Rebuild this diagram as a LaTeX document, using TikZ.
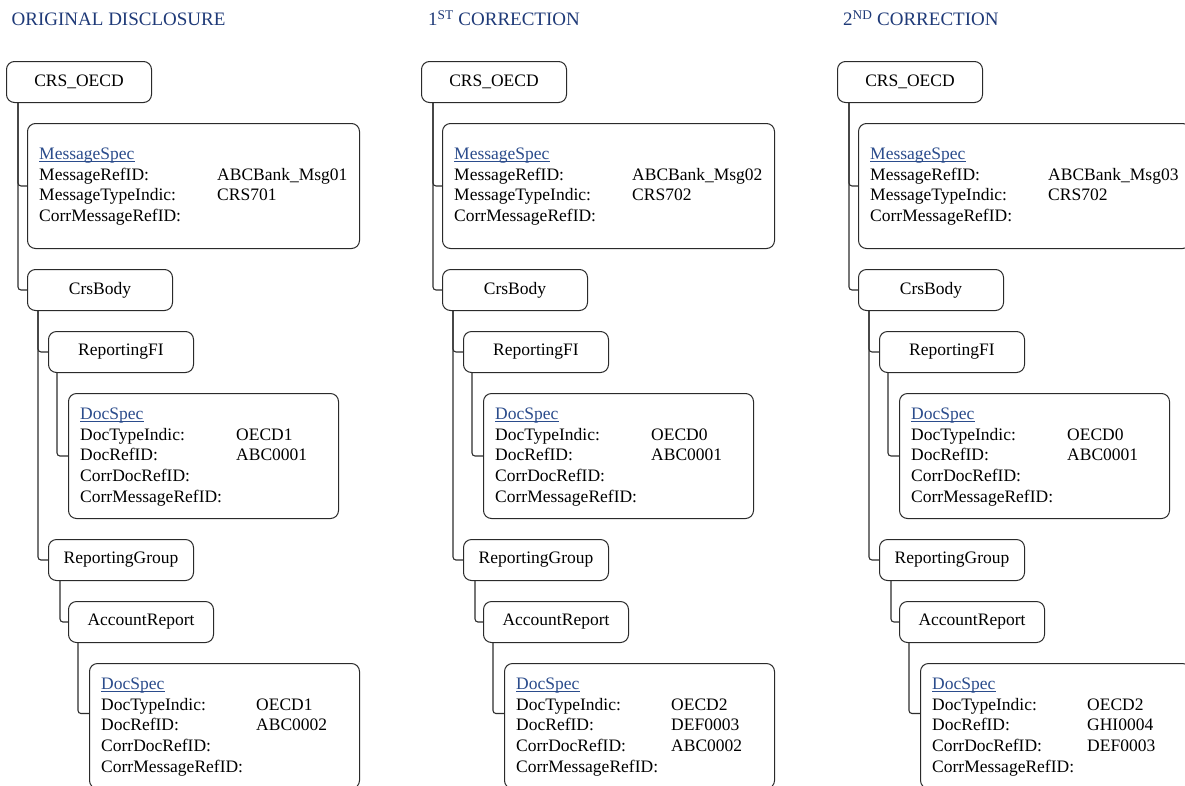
\documentclass[tikz,border=0pt]{standalone}
\usepackage{fontspec}
\setmainfont{LiberationSerif}[Extension=.ttf, UprightFont=*-Regular, BoldFont=*-Bold, ItalicFont=*-Italic]
\definecolor{ttl}{HTML}{1F3A78}
\definecolor{lnk}{HTML}{2B4C8C}
\definecolor{edge}{HTML}{2A2A2A}
\definecolor{wire}{HTML}{2E2E2E}
\tikzset{
  tbox/.style={draw=edge, line width=1pt, rounded corners=8pt, minimum width=145pt,
    minimum height=41pt, inner sep=0pt, anchor=north west, font=\fontsize{17.5}{21}\selectfont},
  bigbox/.style={draw=edge, line width=1pt, rounded corners=8pt, minimum height=125pt,
    inner sep=0pt, anchor=north west},
  txt/.style={inner sep=0pt, anchor=base west, font=\fontsize{17.5}{21}\selectfont},
  lnktxt/.style={txt, text=lnk},
  ttltxt/.style={inner sep=0pt, anchor=base west, text=ttl, font=\fontsize{19}{22}\selectfont},
  conn/.style={draw=wire, line width=1.1pt, rounded corners=3pt},
  uline/.style={draw=lnk, line width=0.8pt}
}
% #1 offset, #2 prefix, #3 msgref, #4 msgtype, #5 dt1, #6 dt2, #7 dr2, #8 cdr2
\newcommand\crscol[8]{%
\begin{scope}[xshift=#1pt]
  \node[tbox] (#2crs) at (6,61) {CRS\_OECD};
  \node[bigbox, minimum width=332pt] (#2ms) at (27,123) {};
  \node[tbox] (#2body) at (27,269) {CrsBody};
  \node[tbox] (#2rfi) at (48,331) {ReportingFI};
  \node[bigbox, minimum width=270pt] (#2dsa) at (68,393) {};
  \node[tbox] (#2rg) at (48,539) {ReportingGroup};
  \node[tbox] (#2ar) at (68,601) {AccountReport};
  \node[bigbox, minimum width=270pt] (#2dsb) at (89,663) {};
  % connectors
  \draw[conn] ([xshift=12pt]#2crs.south west) |- (#2ms.west);
  \draw[conn] ([xshift=12pt]#2crs.south west) |- (#2body.west);
  \draw[conn] ([xshift=11pt]#2body.south west) |- (#2rfi.west);
  \draw[conn] ([xshift=11pt]#2body.south west) |- (#2rg.west);
  \draw[conn] ([xshift=9pt]#2rfi.south west) |- (#2dsa.west);
  \draw[conn] ([xshift=12pt]#2rg.south west) |- (#2ar.west);
  \draw[conn] ([xshift=10pt]#2ar.south west) |- ([yshift=12.5pt]#2dsb.west);
  % MessageSpec texts
  \node[lnktxt] (#2msh) at (39,159.5) {MessageSpec};
  \draw[uline] ([yshift=-2pt]#2msh.base west) -- ([yshift=-2pt]#2msh.base east);
  \node[txt] (#2msa) at (39,180.2) {MessageRefID:};
  \node[txt] (#2msb) at (39,200.9) {MessageTypeIndic:};
  \node[txt] (#2msc) at (39,221.6) {CorrMessageRefID:};
  \node[txt] (#2msav) at (217,180.2) {#3};
  \node[txt] (#2msbv) at (217,200.9) {#4};
  % DocSpec 1
  \node[lnktxt] (#2dah) at (80,419.3) {DocSpec};
  \draw[uline] ([yshift=-2pt]#2dah.base west) -- ([yshift=-2pt]#2dah.base east);
  \node[txt] (#2daa) at (80,440.1) {DocTypeIndic:};
  \node[txt] (#2dab) at (80,460.9) {DocRefID:};
  \node[txt] (#2dac) at (80,481.7) {CorrDocRefID:};
  \node[txt] (#2dad) at (80,502.5) {CorrMessageRefID:};
  \node[txt] (#2daav) at (236,440.1) {#5};
  \node[txt] (#2dabv) at (236,460.9) {ABC0001};
  % DocSpec 2
  \node[lnktxt] (#2dbh) at (101,689.3) {DocSpec};
  \draw[uline] ([yshift=-2pt]#2dbh.base west) -- ([yshift=-2pt]#2dbh.base east);
  \node[txt] (#2dba) at (101,710.1) {DocTypeIndic:};
  \node[txt] (#2dbb) at (101,730.9) {DocRefID:};
  \node[txt] (#2dbc) at (101,751.7) {CorrDocRefID:};
  \node[txt] (#2dbd) at (101,772.5) {CorrMessageRefID:};
  \node[txt] (#2dbav) at (256,710.1) {#6};
  \node[txt] (#2dbbv) at (256,730.9) {#7};
  \node[txt] (#2dbcv) at (256,751.7) {#8};
\end{scope}}
\begin{document}
\begin{tikzpicture}[x=1pt, y=-1pt]
  \useasboundingbox[fill=white] (0,0) rectangle (1185,785);
  \clip (0,0) rectangle (1185,785);
  \node[ttltxt] (t1) at (11.5,25.5) {ORIGINAL DISCLOSURE};
  \node[ttltxt] (t2) at (428,25.5) {1\textsuperscript{ST} CORRECTION};
  \node[ttltxt] (t3) at (843,25.5) {2\textsuperscript{ND} CORRECTION};
  \crscol{0}{a}{ABCBank\_Msg01}{CRS701}{OECD1}{OECD1}{ABC0002}{}
  \crscol{415}{b}{ABCBank\_Msg02}{CRS702}{OECD0}{OECD2}{DEF0003}{ABC0002}
  \crscol{831}{c}{ABCBank\_Msg03}{CRS702}{OECD0}{OECD2}{GHI0004}{DEF0003}
\end{tikzpicture}
\end{document}
